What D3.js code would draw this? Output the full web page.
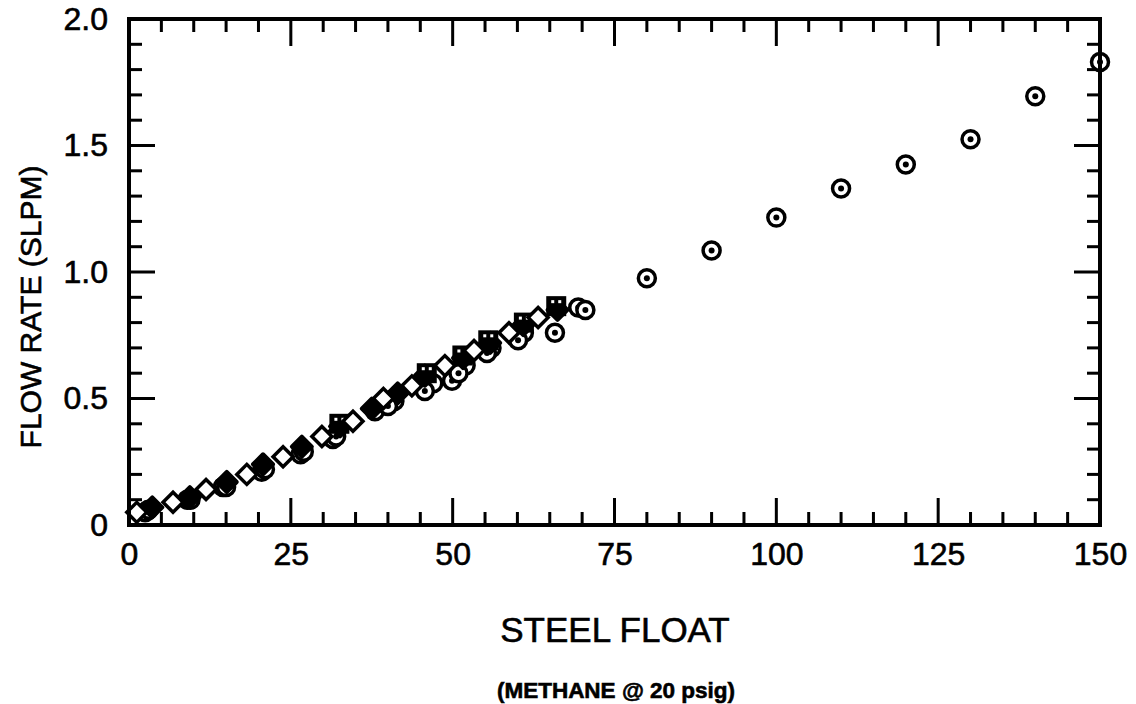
<!DOCTYPE html>
<html lang="en">
<head>
<meta charset="UTF-8">
<title>Flow rate vs steel float</title>
<script src="https://d3js.org/d3.v7.min.js"></script>
<style>
    body { margin: 0; background: #fff; }
    svg text { font-family: "Liberation Sans", Arial, sans-serif; fill: #000; stroke: #000; stroke-width: 0.6px; }
</style>
</head>
<body>
<div id="chart"></div>
<script>
    // tick values
    const xTicks = [0, 25, 50, 75, 100, 125, 150];
    const yTicks = [0, 0.5, 1.0, 1.5, 2.0];
    const yTickLabels = ["0", "0.5", "1.0", "1.5", "2.0"];

    // series: [steel float, flow rate]
    const dotCircles = [[3, 0.06], [9.5, 0.10], [15, 0.15], [21, 0.22], [27, 0.29], [32, 0.35], [40, 0.47],
        [45.7, 0.53], [49.9, 0.57], [50.9, 0.60], [55.3, 0.68], [60.1, 0.73], [65.8, 0.76], [69.4, 0.86],
        [70.5, 0.85], [80, 0.975], [90, 1.085], [100, 1.215], [110, 1.33], [120, 1.425], [130, 1.525],
        [140, 1.695], [150, 1.83]];
    const openCircles = [[2.5, 0.05], [9, 0.10], [14.5, 0.15], [20.5, 0.21], [26.5, 0.28], [31.5, 0.34],
        [38, 0.45], [41, 0.49], [47, 0.56], [52, 0.63], [56, 0.70], [61, 0.76]];
    const filledMarks = [[3.6, 0.07], [9.4, 0.11], [15.1, 0.17], [20.7, 0.24], [26.7, 0.31], [32.6, 0.39],
        [37.5, 0.46], [41.5, 0.52], [45.7, 0.59], [51.6, 0.66], [55.8, 0.72], [60.9, 0.79], [66.2, 0.85]];
    const squares = [[32.5, 0.40], [46, 0.60], [51.5, 0.67], [55.5, 0.73], [61, 0.80], [66, 0.865]];
    const openDiamonds = [[1.2, 0.05], [6.8, 0.09], [11.9, 0.14], [18.2, 0.20], [23.8, 0.27], [29.8, 0.35],
        [34.6, 0.41], [39.3, 0.50], [43.7, 0.55], [48.8, 0.63], [53.3, 0.69], [58.7, 0.76], [63.2, 0.82]];

    const W = 1136, H = 704;
    const margin = { left: 129, right: 36, top: 19, bottom: 179 };
    const width = W - margin.left - margin.right;
    const height = H - margin.top - margin.bottom;

    const svg = d3.select("#chart").append("svg")
        .attr("width", W).attr("height", H);
    const g = svg.append("g")
        .attr("transform", `translate(${margin.left},${margin.top})`);

    const x = d3.scaleLinear().domain([0, 150]).range([0, width]);
    const y = d3.scaleLinear().domain([0, 2]).range([height, 0]);

    // inward ticks on all four sides, as thin filled bars
    const xAll = d3.range(0, 151, 5);
    const yAll = d3.range(0, 21, 1).map(d => d / 10);
    const xLen = d => (d % 25 === 0 ? 27 : 13);
    const yLen = d => (Math.round(d * 10) % 5 === 0 ? 26 : 13);
    const tickG = g.append("g").attr("fill", "#000");

    tickG.selectAll(".xb").data(xAll).enter().append("rect")
        .attr("x", d => x(d) - 1.5).attr("y", d => height - xLen(d))
        .attr("width", 3).attr("height", d => xLen(d));
    tickG.selectAll(".xt").data(xAll).enter().append("rect")
        .attr("x", d => x(d) - 1.5).attr("y", 0)
        .attr("width", 3).attr("height", d => xLen(d));
    tickG.selectAll(".yl").data(yAll).enter().append("rect")
        .attr("x", 0).attr("y", d => y(d) - 1.5)
        .attr("width", d => yLen(d)).attr("height", 3);
    tickG.selectAll(".yr").data(yAll).enter().append("rect")
        .attr("x", d => width - yLen(d)).attr("y", d => y(d) - 1.5)
        .attr("width", d => yLen(d)).attr("height", 3);

    // markers
    const marks = g.append("g");
    const diamond = d3.symbol().type(d3.symbolSquare).size(200)();

    marks.selectAll(".oc").data(openCircles).enter().append("circle")
        .attr("cx", d => x(d[0])).attr("cy", d => y(d[1])).attr("r", 8.5)
        .attr("fill", "#fff").attr("stroke", "#000").attr("stroke-width", 3.5);

    marks.selectAll(".dc").data(dotCircles).enter().append("g")
        .attr("transform", d => `translate(${x(d[0])},${y(d[1])})`)
        .each(function () {
            const s = d3.select(this);
            s.append("circle").attr("r", 8.5).attr("fill", "#fff").attr("stroke", "#000").attr("stroke-width", 3.5);
            s.append("circle").attr("r", 3).attr("fill", "#000");
        });

    marks.selectAll(".fm").data(filledMarks).enter().append("path")
        .attr("transform", d => `translate(${x(d[0])},${y(d[1])}) rotate(45)`)
        .attr("d", diamond)
        .attr("fill", "#000").attr("stroke", "#000").attr("stroke-width", 4).attr("stroke-linejoin", "round");

    marks.selectAll(".sq").data(squares).enter().append("g")
        .attr("transform", d => `translate(${x(d[0])},${y(d[1])})`)
        .each(function () {
            const s = d3.select(this);
            s.append("rect").attr("x", -9).attr("y", -9).attr("width", 18).attr("height", 18)
                .attr("fill", "#000").attr("stroke", "#000").attr("stroke-width", 2);
            s.append("rect").attr("x", -5).attr("y", -6).attr("width", 3).attr("height", 3).attr("fill", "#fff");
            s.append("rect").attr("x", 2).attr("y", -6).attr("width", 3).attr("height", 3).attr("fill", "#fff");
        });

    marks.selectAll(".od").data(openDiamonds).enter().append("path")
        .attr("transform", d => `translate(${x(d[0])},${y(d[1])}) rotate(45)`)
        .attr("d", diamond)
        .attr("fill", "#fff").attr("stroke", "#000").attr("stroke-width", 3.5);

    g.append("rect")
        .attr("width", width).attr("height", height)
        .attr("fill", "none").attr("stroke", "#000").attr("stroke-width", 4);

    // axis labels
    const xAxis = g.append("g").attr("transform", `translate(0,${height})`)
        .call(d3.axisBottom(x).tickValues(xTicks).tickSize(0).tickPadding(17));
    xAxis.select(".domain").remove();
    xAxis.selectAll("text").attr("font-size", 32).attr("font-family", "Liberation Sans, Arial, sans-serif");

    const yAxis = g.append("g")
        .call(d3.axisLeft(y).tickValues(yTicks).tickSize(0).tickPadding(21)
            .tickFormat((d, i) => yTickLabels[i]));
    yAxis.select(".domain").remove();
    yAxis.selectAll("text").attr("font-size", 32).attr("font-family", "Liberation Sans, Arial, sans-serif");

    // titles
    svg.append("text")
        .attr("transform", "translate(41,307) rotate(-90)")
        .attr("text-anchor", "middle").attr("font-size", 30)
        .text("FLOW RATE (SLPM)");
    svg.append("text")
        .attr("x", 615).attr("y", 642)
        .attr("text-anchor", "middle").attr("font-size", 35)
        .text("STEEL FLOAT");
    svg.append("text")
        .attr("x", 616).attr("y", 698)
        .attr("text-anchor", "middle").attr("font-size", 22.5).attr("font-weight", "bold")
        .text("(METHANE @ 20 psig)");
</script>
</body>
</html>
